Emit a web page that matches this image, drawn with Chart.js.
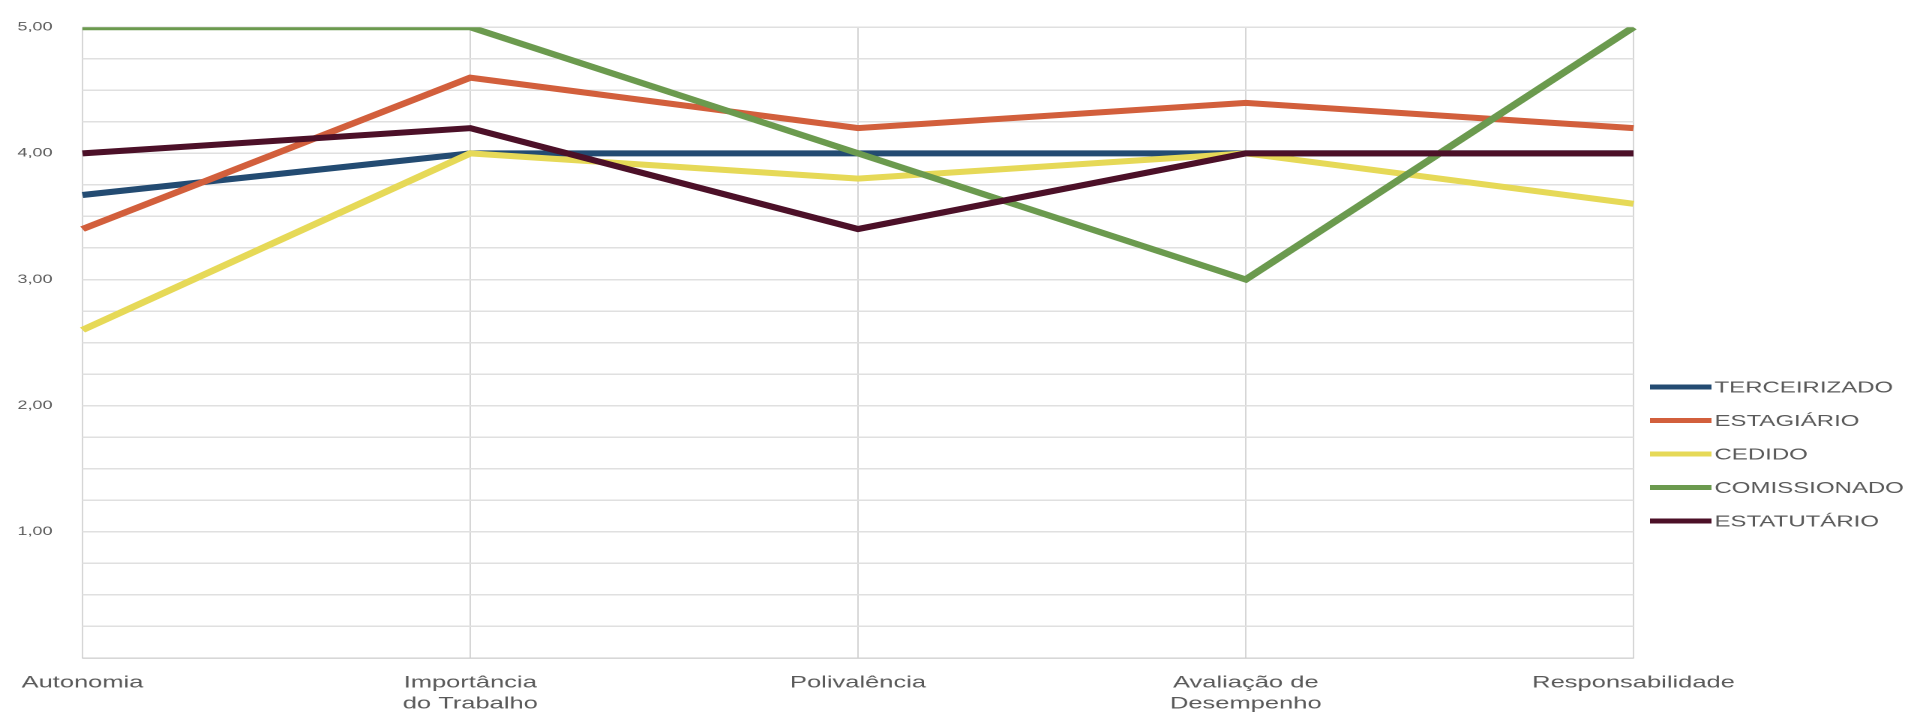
<!DOCTYPE html>
<html>
<head>
<meta charset="utf-8">
<script src="https://cdn.jsdelivr.net/npm/chart.js@4.4.1/dist/chart.umd.min.js"></script>
<style>
  html, body { margin: 0; padding: 0; background: #fff; overflow: hidden; }
  /* the chart is laid out narrow and widened horizontally */
  #wrap { width: 1274px; height: 722px; transform: scaleX(1.5); transform-origin: 0 0; }
</style>
</head>
<body>
<div id="wrap"><canvas id="chart" width="1274" height="722"></canvas></div>
<script>
// Dimensions evaluated
const categories = [
  'Autonomia',
  ['Importância', 'do Trabalho'],
  'Polivalência',
  ['Avaliação de', 'Desempenho'],
  'Responsabilidade'
];

// Employment types (legend order)
const seriesNames = ['TERCEIRIZADO', 'ESTAGIÁRIO', 'CEDIDO', 'COMISSIONADO', 'ESTATUTÁRIO'];

// Average score per dimension
const terceirizado = [3.67, 4.00, 4.00, 4.00, 4.00];
const estagiario   = [3.40, 4.60, 4.20, 4.40, 4.20];
const cedido       = [2.60, 4.00, 3.80, 4.00, 3.60];
const comissionado = [5.00, 5.00, 4.00, 3.00, 5.00];
const estatutario  = [4.00, 4.20, 3.40, 4.00, 4.00];

const seriesValues = [terceirizado, estagiario, cedido, comissionado, estatutario];
const seriesColors = ['#234b72', '#d25f3c', '#e6d957', '#6b9a4e', '#4c1028'];

// Labels shown on the value axis
const yTickLabels = ['1,00', '2,00', '3,00', '4,00', '5,00'];

const FONT = "'Liberation Sans', Arial, sans-serif";
const TEXT = '#5a5a5a';

const datasets = seriesNames.map((name, i) => ({
  label: name,
  data: seriesValues[i],
  borderColor: seriesColors[i],
  backgroundColor: seriesColors[i],
  borderWidth: 6,
  pointRadius: 0,
  tension: 0,
  fill: false,
  // later series are painted over earlier ones
  order: seriesNames.length - i
}));

// Legend at the right: line sample followed by the name
const sideLegend = {
  id: 'sideLegend',
  afterDraw(chart) {
    const ctx = chart.ctx;
    const x0 = 1100, x1 = 1141, top = 387, step = 33.5;
    ctx.save();
    ctx.font = '16px ' + FONT;
    ctx.textBaseline = 'middle';
    ctx.textAlign = 'left';
    seriesNames.forEach((name, i) => {
      const y = top + i * step;
      ctx.strokeStyle = seriesColors[i];
      ctx.lineWidth = 5;
      ctx.lineCap = 'butt';
      ctx.beginPath();
      ctx.moveTo(x0, y);
      ctx.lineTo(x1, y);
      ctx.stroke();
      ctx.fillStyle = TEXT;
      ctx.fillText(name, x1 + 2, y + 1);
    });
    ctx.restore();
  }
};

const whiteBg = {
  id: 'whiteBg',
  beforeDraw(chart) {
    const ctx = chart.ctx;
    ctx.save();
    ctx.fillStyle = '#fff';
    ctx.fillRect(0, 0, chart.width, chart.height);
    ctx.restore();
  }
};

new Chart(document.getElementById('chart'), {
  type: 'line',
  data: { labels: categories, datasets },
  plugins: [whiteBg, sideLegend],
  options: {
    responsive: false,
    animation: false,
    devicePixelRatio: 2,
    layout: { padding: { top: 27, right: 185, left: 0, bottom: 0 } },
    plugins: {
      legend: { display: false },
      title: { display: false },
      tooltip: { enabled: false }
    },
    scales: {
      x: {
        offset: false,
        afterFit(scale) { scale.height = 64; },
        grid: { color: '#d6d6d6', lineWidth: 1, drawTicks: false },
        border: { color: '#cfcfcf', width: 1 },
        ticks: {
          color: TEXT,
          font: { family: FONT, size: 17, lineHeight: 1.25 },
          padding: 14,
          maxRotation: 0,
          autoSkip: false
        }
      },
      y: {
        min: 0,
        max: 5,
        afterFit(scale) { scale.width = 55; },
        grid: { color: '#e0e0e0', lineWidth: 1.5, drawTicks: false },
        border: { display: false },
        ticks: {
          stepSize: 0.25,
          autoSkip: false,
          color: TEXT,
          font: { family: FONT, size: 12 },
          padding: 20,
          callback(value) {
            return Number.isInteger(value) && value > 0 ? yTickLabels[value - 1] : '';
          }
        }
      }
    }
  }
});
</script>
</body>
</html>
